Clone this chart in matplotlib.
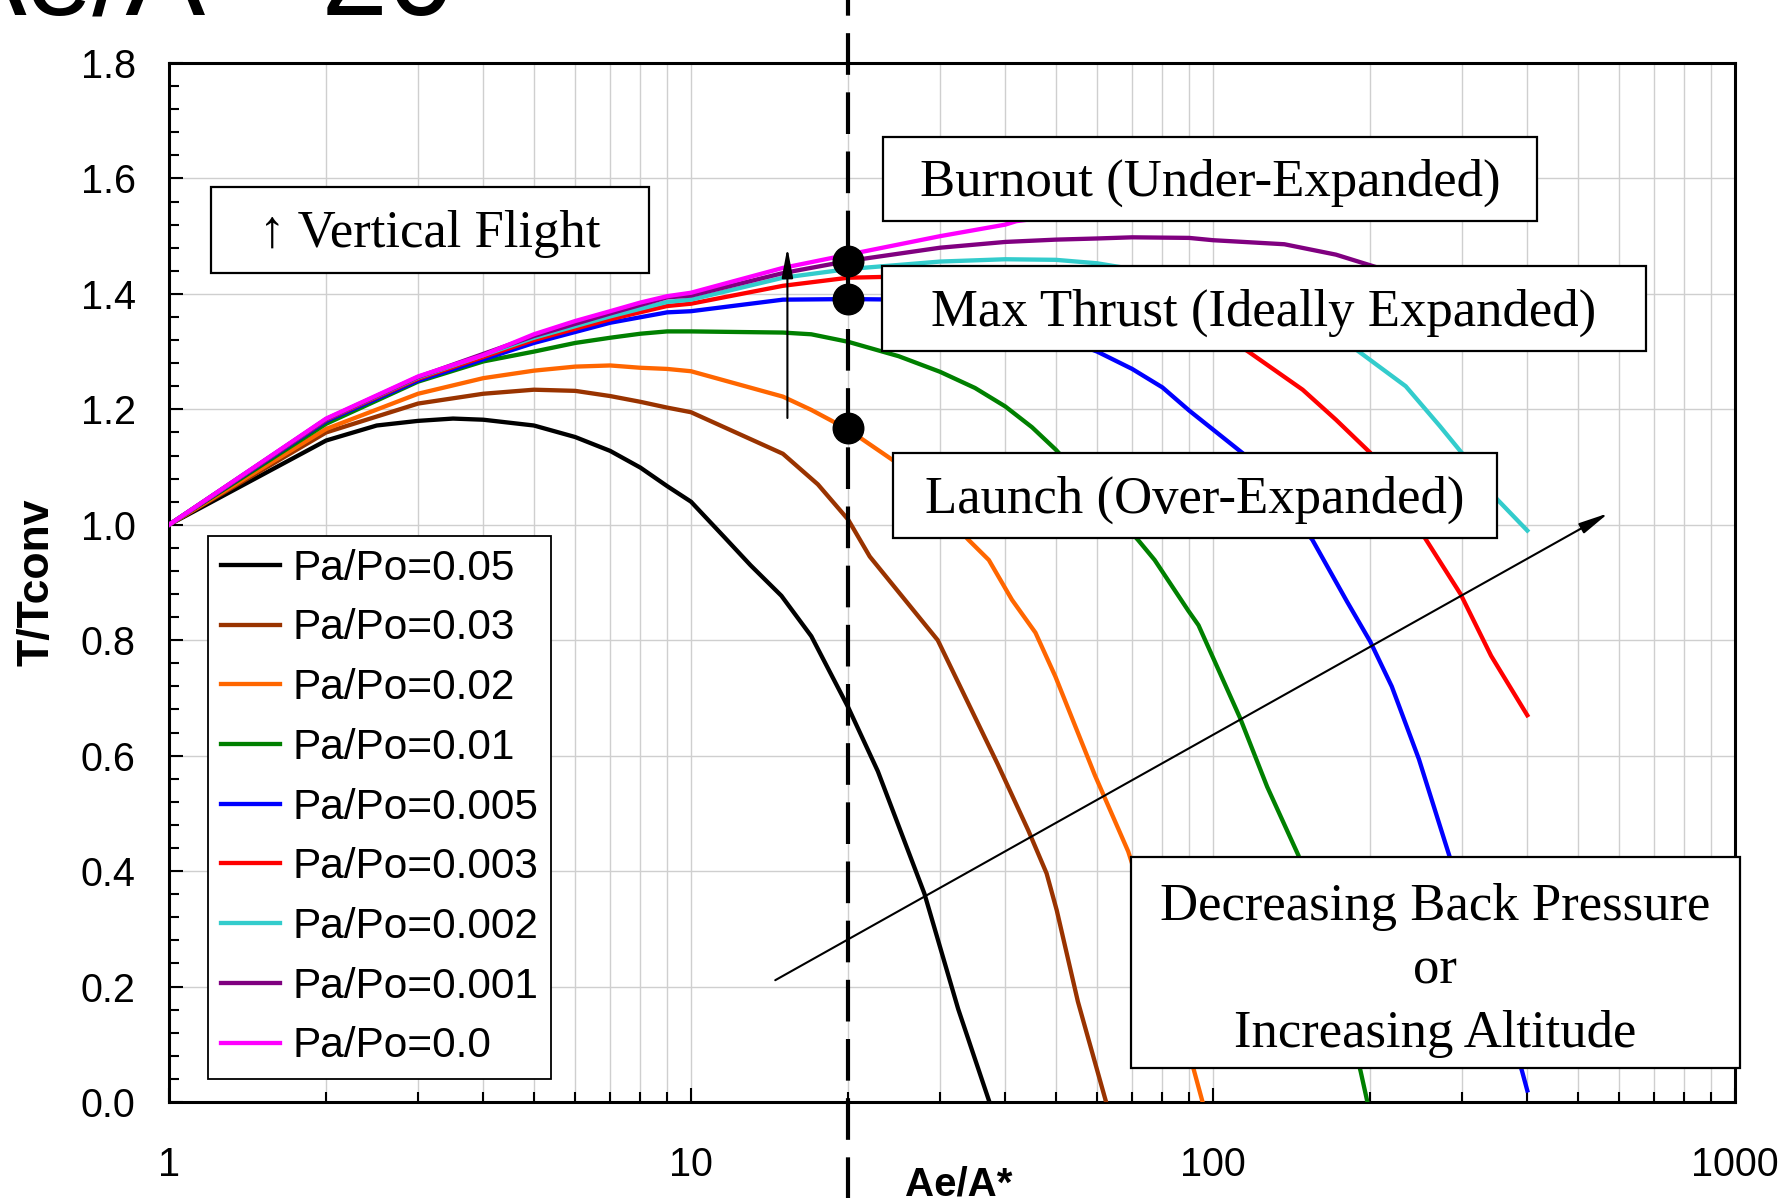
import matplotlib
matplotlib.use("Agg")
import matplotlib.pyplot as plt
from matplotlib.patches import Rectangle
from matplotlib.ticker import FixedLocator, MultipleLocator, LogLocator, NullFormatter, FormatStrFormatter

SANS = ["Liberation Sans", "DejaVu Sans"]
SERIF = ["Liberation Serif", "DejaVu Serif"]

# ---- thrust ratio T/Tconv versus area ratio Ae/A* for each back-pressure ratio ----
labels = ["Pa/Po=0.05", "Pa/Po=0.03", "Pa/Po=0.02", "Pa/Po=0.01", "Pa/Po=0.005",
          "Pa/Po=0.003", "Pa/Po=0.002", "Pa/Po=0.001", "Pa/Po=0.0"]
colors = ["#000000", "#993300", "#FF6600", "#008000", "#0000FF",
          "#FF0000", "#33CCCC", "#800080", "#FF00FF"]

x_p050 = [1, 2, 2.5, 3, 3.5, 4, 5, 6, 7, 8, 9, 10, 11.6, 13, 14.9, 17, 20, 22.8, 28, 32.5, 37.3]
y_p050 = [1.0, 1.146, 1.172, 1.18, 1.184, 1.182, 1.172, 1.152, 1.128, 1.099, 1.067, 1.04,
          0.978, 0.93, 0.877, 0.807, 0.684, 0.573, 0.361, 0.161, 0.0]

x_p030 = [1, 2, 3, 4, 5, 6, 7, 8, 9, 10, 15, 17.5, 20, 22, 29.7, 38.7, 44.3, 48, 50.2, 55.1, 62.4]
y_p030 = [1.0, 1.16, 1.21, 1.227, 1.234, 1.232, 1.223, 1.213, 1.203, 1.195, 1.123, 1.07,
          1.009, 0.945, 0.80, 0.585, 0.47, 0.396, 0.332, 0.174, 0.0]

x_p020 = [1, 2, 3, 4, 5, 6, 7, 8, 9, 10, 15, 17, 20, 25, 34, 37.2, 41.2, 45.7, 49.9, 59.4,
          68.8, 82, 95.5]
y_p020 = [1.0, 1.166, 1.227, 1.254, 1.267, 1.274, 1.276, 1.272, 1.27, 1.266, 1.222, 1.199,
          1.165, 1.105, 0.974, 0.939, 0.87, 0.813, 0.737, 0.566, 0.434, 0.22, 0.0]

x_p010 = [1, 2, 3, 4, 5, 6, 7, 8, 9, 10, 15, 17, 20, 25, 30, 35, 40, 45, 50, 71.8, 77.3,
          89.7, 93.8, 112.6, 127, 145.8, 170, 191.8, 197.6]
y_p010 = [1.0, 1.175, 1.248, 1.283, 1.30, 1.315, 1.324, 1.331, 1.335, 1.335, 1.333, 1.33,
          1.317, 1.292, 1.265, 1.237, 1.205, 1.169, 1.13, 0.974, 0.939, 0.851, 0.826, 0.666,
          0.546, 0.427, 0.24, 0.053, 0.0]

x_p005 = [1, 2, 3, 5, 7, 9, 10, 15, 20, 26, 40, 60, 70, 80, 90, 114, 155, 180.6, 200, 220,
          248, 284, 340, 391, 400]
y_p005 = [1.0, 1.18, 1.25, 1.315, 1.35, 1.368, 1.37, 1.39, 1.391, 1.39, 1.36, 1.30, 1.27,
          1.238, 1.198, 1.124, 0.974, 0.867, 0.798, 0.72, 0.594, 0.425, 0.24, 0.053, 0.02]

x_p003 = [1, 2, 3, 5, 7, 9, 10, 15, 20, 25, 50, 80, 116, 148.5, 172, 200, 256, 298, 341, 400]
y_p003 = [1.0, 1.182, 1.253, 1.32, 1.356, 1.379, 1.383, 1.414, 1.428, 1.43, 1.41, 1.36,
          1.302, 1.234, 1.182, 1.125, 0.974, 0.88, 0.773, 0.67]

x_p002 = [1, 2, 3, 5, 7, 9, 10, 15, 20, 30, 40, 50, 60, 100, 150, 189, 234, 272, 300, 341, 400]
y_p002 = [1.0, 1.183, 1.255, 1.324, 1.361, 1.386, 1.39, 1.428, 1.443, 1.456, 1.46, 1.459,
          1.453, 1.42, 1.36, 1.302, 1.24, 1.171, 1.124, 1.055, 0.99]

x_p001 = [1, 2, 3, 5, 7, 9, 10, 15, 20, 30, 40, 50, 60, 70, 90, 100, 137, 172, 201, 300, 400]
y_p001 = [1.0, 1.183, 1.256, 1.327, 1.366, 1.394, 1.397, 1.436, 1.457, 1.48, 1.49, 1.494,
          1.496, 1.498, 1.497, 1.493, 1.486, 1.468, 1.449, 1.40, 1.34]

x_p000 = [1, 2, 3, 4, 5, 6, 7, 8, 9, 10, 15, 20, 30, 40, 42, 100, 200, 400]
y_p000 = [1.0, 1.184, 1.257, 1.294, 1.33, 1.353, 1.37, 1.385, 1.396, 1.402, 1.445, 1.468,
          1.50, 1.52, 1.526, 1.57, 1.60, 1.63]

series_x = [x_p050, x_p030, x_p020, x_p010, x_p005, x_p003, x_p002, x_p001, x_p000]
series_y = [y_p050, y_p030, y_p020, y_p010, y_p005, y_p003, y_p002, y_p001, y_p000]

# design area ratio and the three operating points on it
design_ratio = 20
point_y = [1.457, 1.391, 1.167]

x_ticks = [1, 10, 100, 1000]
x_ticklabels = ["1", "10", "100", "1000"]
y_ticks = [0.0, 0.2, 0.4, 0.6, 0.8, 1.0, 1.2, 1.4, 1.6, 1.8]

# ---- figure ----
W, H = 1791, 1198
fig = plt.figure(figsize=(W / 100, H / 100), dpi=100)
ax = fig.add_axes([169 / W, 1 - 1102 / H, (1735 - 169) / W, (1102 - 63) / H])

ax.set_xscale("log")
ax.set_xlim(1, 1000)
ax.set_ylim(0, 1.8)

for xs, ys, c, lab in zip(series_x, series_y, colors, labels):
    ax.plot(xs, ys, color=c, lw=3.1, label=lab, solid_joinstyle="round", zorder=3)

# grid
ax.set_axisbelow(True)
ax.grid(True, which="major", axis="y", color="#cfcfcf", lw=1.0)
ax.grid(True, which="both", axis="x", color="#cfcfcf", lw=1.0)

# ticks
ax.xaxis.set_major_locator(FixedLocator(x_ticks))
ax.set_xticklabels(x_ticklabels)
ax.xaxis.set_minor_locator(LogLocator(base=10, subs=range(2, 10)))
ax.xaxis.set_minor_formatter(NullFormatter())
ax.yaxis.set_major_locator(FixedLocator(y_ticks))
ax.yaxis.set_major_formatter(FormatStrFormatter("%.1f"))
ax.yaxis.set_minor_locator(MultipleLocator(0.04))
ax.tick_params(axis="both", which="both", direction="in", width=1.5, colors="black")
ax.tick_params(axis="both", which="major", length=10)
ax.tick_params(axis="both", which="minor", length=7)
ax.tick_params(axis="y", which="major", pad=24, labelsize=28.5)
ax.tick_params(axis="x", which="major", pad=32, labelsize=28.5)
for lab in ax.get_xticklabels() + ax.get_yticklabels():
    lab.set_family(SANS)
for sp in ax.spines.values():
    sp.set_linewidth(2.2)
    sp.set_color("black")

# design-point vertical dashed line, running past the plot frame
vline = ax.axvline(design_ratio, ymin=-0.1, ymax=1.1, color="black", lw=3.0,
                   clip_on=False, zorder=4)
vline.set_dashes((10, 4.2))
ax.plot([design_ratio] * len(point_y), point_y, "o", color="black", ms=22, zorder=5,
        clip_on=False)

# arrows
arrow_kw = dict(arrowstyle="-|>,head_length=0.9,head_width=0.17", lw=1.5, color="black",
                shrinkA=0, shrinkB=0, mutation_scale=20)
ax.annotate("", xy=(15.3, 1.48), xytext=(15.3, 1.185), arrowprops=arrow_kw, zorder=6)
ax.annotate("", xy=(572, 1.02), xytext=(14.5, 0.211), arrowprops=arrow_kw, zorder=6)

# annotation boxes (axes-fraction corners), their text, line spacing and nudge
boxes = [
    ((0.0268, 0.798, 0.3065, 0.8807), "\u2191 Vertical Flight", 1.2, 0.004),
    ((0.456, 0.848, 0.8736, 0.9288), "Burnout (Under-Expanded)", 1.2, 0.004),
    ((0.4553, 0.7228, 0.943, 0.8046), "Max Thrust (Ideally Expanded)", 1.2, 0.004),
    ((0.4623, 0.5428, 0.848, 0.6246), "Launch (Over-Expanded)", 1.2, 0.004),
    ((0.6143, 0.0327, 1.003, 0.2358), "Decreasing Back Pressure\nor\nIncreasing Altitude",
     1.42, 0.008),
]
for (x0, y0, x1, y1), txt, lsp, dy in boxes:
    ax.add_patch(Rectangle((x0, y0), x1 - x0, y1 - y0, transform=ax.transAxes,
                           facecolor="white", edgecolor="black", lw=1.6, zorder=7,
                           clip_on=False))
    ax.text((x0 + x1) / 2, (y0 + y1) / 2 - dy, txt, transform=ax.transAxes, ha="center",
            va="center", multialignment="center", fontsize=38, family=SERIF,
            linespacing=lsp, zorder=8)

# legend
leg = ax.legend(loc="lower left", bbox_to_anchor=(0.0249, 0.0221), borderaxespad=0,
                prop={"family": SANS, "size": 30.5}, frameon=True, fancybox=False,
                framealpha=1, edgecolor="black", handlelength=1.4, handletextpad=0.3,
                labelspacing=0.465, borderpad=0.3)
leg.get_frame().set_linewidth(1.3)
leg.set_zorder(9)

# axis labels
fig.text(37 / W, 1 - 582.5 / H, "T/Tconv", rotation=90, ha="center", va="center",
         fontsize=32, fontweight="bold", family=SANS)
fig.text(959 / W, 1 - 1165 / H, "Ae/A*", ha="center", va="top",
         fontsize=29, fontweight="bold", family=SANS)

# heading, partly beyond the top edge
fig.text(455 / W, 1 - 15 / H, "Ae/A*=20", ha="right", va="baseline", fontsize=86,
         family=SANS)

fig.savefig("out.png", dpi=100)
